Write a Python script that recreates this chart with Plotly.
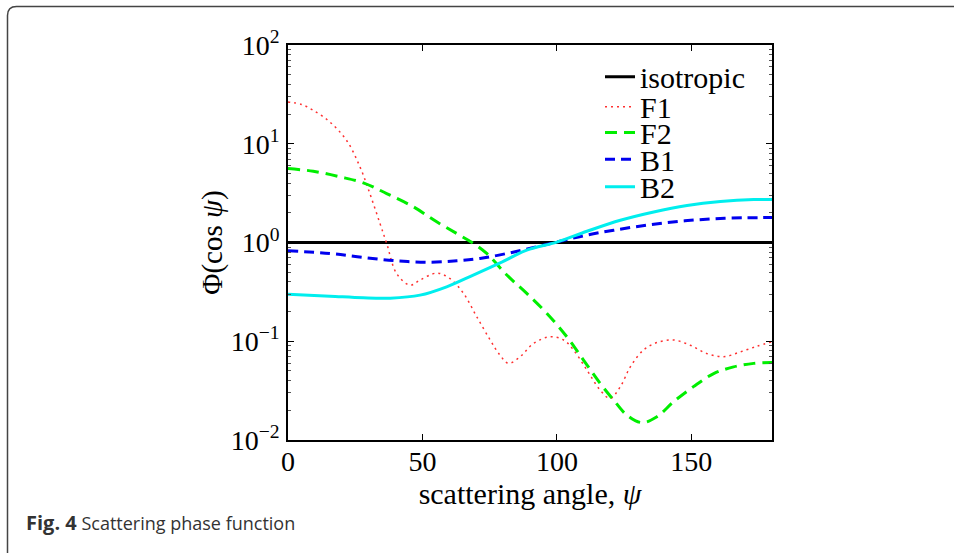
import plotly.graph_objects as go

# ---------------- data ----------------
ang_iso = [0, 180]
val_iso = [1.0, 1.0]

ang_F1 = [0, 5, 9.4, 15.6, 21.8, 26.8, 30.5, 34.2, 36.7, 40.4, 45.4, 49.1, 55.3, 60.3,
          65.3, 70.2, 75.2, 78.9, 82, 86.3, 91.3, 97.5, 102.5, 106.2, 111.2, 116.1,
          119.8, 123.6, 127.3, 132.2, 137.2, 143.4, 149.6, 155.8, 162, 168.2, 174.4, 180]
val_F1 = [26.5, 25.0, 21.8, 16.6, 10.8, 5.8, 3.1, 1.56, 0.98, 0.485, 0.37, 0.416, 0.49, 0.43,
          0.305, 0.177, 0.103, 0.072, 0.0597, 0.0697, 0.095, 0.111, 0.103, 0.0815, 0.051, 0.032,
          0.0264, 0.0347, 0.055, 0.0815, 0.097, 0.103, 0.091, 0.075, 0.0697, 0.078, 0.089, 0.099]

ang_F2 = [0, 9.4, 19.4, 28, 36.7, 46.6, 55.3, 62.8, 68.4, 73.9, 81.4, 88.8, 96.3, 103.7,
          109.9, 116.1, 121.1, 126, 131.6, 137.2, 143.4, 150.8, 158.3, 165.7, 173.2, 180]
val_F2 = [5.6, 5.27, 4.62, 4.02, 3.13, 2.30, 1.62, 1.23, 1.0, 0.774, 0.468, 0.305, 0.191, 0.111,
          0.0645, 0.0374, 0.0254, 0.0179, 0.0150, 0.0172, 0.0244, 0.0347, 0.047, 0.055, 0.0597, 0.061]

ang_B1 = [0, 15.6, 28, 40.4, 52.8, 62.8, 71.4, 81.4, 91.3, 101.2, 111.2, 121.1, 133.5,
          145.9, 158.3, 170.7, 180]
val_B1 = [0.824, 0.774, 0.705, 0.652, 0.632, 0.652, 0.689, 0.774, 0.89, 1.03, 1.19, 1.33, 1.50,
          1.64, 1.74, 1.78, 1.79]

ang_B2 = [0, 15.6, 28, 38, 49.1, 59, 68.9, 78.9, 88.8, 100, 111.2, 123.6, 136, 148.4,
          160.8, 173.2, 180]
val_B2 = [0.30, 0.286, 0.275, 0.273, 0.293, 0.356, 0.468, 0.622, 0.836, 1.01, 1.30, 1.68, 2.04,
          2.37, 2.60, 2.72, 2.72]

series_names = ["isotropic", "F1", "F2", "B1", "B2"]
x_tickvals = [0, 50, 100, 150]
y_tickvals = [0.01, 0.1, 1, 10, 100]
y_ticktext = ["10<sup>−2</sup>", "10<sup>−1</sup>", "10<sup>0</sup>", "10<sup>1</sup>", "10<sup>2</sup>"]
y_minor_vals = [m * 10 ** e for e in (-2, -1, 0, 1) for m in range(2, 10)]

# ---------------- figure ----------------
W, H = 954, 553
L, R, T, B = 288, 182, 45, 113
PW, PH = W - L - R, H - T - B


def px(x):
    return (x - L) / PW


def py(y):
    return (H - B - y) / PH


SERIF = "Liberation Serif, Times New Roman, serif"

styles = [
    dict(color="black", width=3),
    dict(color="#ff3030", width=1.5, dash="2px,4px"),
    dict(color="#00ee00", width=3, dash="12px,7px"),
    dict(color="#0000ee", width=3, dash="10px,6px"),
    dict(color="#00eeee", width=3),
]
data = [(ang_iso, val_iso), (ang_F1, val_F1), (ang_F2, val_F2), (ang_B1, val_B1), (ang_B2, val_B2)]
legend_ids = ["legend", "legend2", "legend3", "legend4", "legend5"]

fig = go.Figure()
for (xs, ys), name, st, lg in zip(data, series_names, styles, legend_ids):
    fig.add_trace(go.Scatter(x=xs, y=ys, mode="lines", name=name,
                             line_shape="linear" if name == "isotropic" else "spline",
                             line=st, legend=lg))

axis_common = dict(showline=True, linecolor="black", linewidth=1.5, mirror="ticks",
                   ticks="inside", ticklen=6, tickcolor="black", tickwidth=1,
                   showgrid=False, zeroline=False,
                   tickfont=dict(family=SERIF, size=28, color="black"))

fig.update_xaxes(range=[0, 180], tickvals=x_tickvals, ticktext=[str(v) for v in x_tickvals],
                 ticklabelstandoff=-4,
                 title=dict(text="scattering angle, <i>ψ</i>", standoff=0,
                            font=dict(family=SERIF, size=30, color="black")),
                 **axis_common)
fig.update_yaxes(type="log", range=[-2, 2], tickvals=y_tickvals, ticktext=y_ticktext,
                 ticklabelstandoff=1,
                 minor=dict(tickvals=y_minor_vals, ticks="inside", ticklen=3,
                            tickcolor="#555", showgrid=False),
                 title=dict(text="Φ(cos <i>ψ</i>)", standoff=0,
                            font=dict(family=SERIF, size=29, color="black")),
                 **axis_common)

# outer rounded frame
x0, y0, x1, y1, r = 7.5, 6.5, 970, 570, 9
path = (f"M {px(x0)},{py(y1)} L {px(x0)},{py(y0 + r)} "
        f"Q {px(x0)},{py(y0)} {px(x0 + r)},{py(y0)} L {px(x1)},{py(y0)}")
fig.add_shape(type="path", path=path, xref="paper", yref="paper",
              line=dict(color="#444", width=1.5))

fig.add_annotation(x=px(24), y=py(522), xref="paper", yref="paper", xanchor="left",
                   yanchor="middle", showarrow=False,
                   text="<span style='font-size:20px'><b>Fig. 4</b></span>\u00a0Scattering phase function",
                   font=dict(family="Open Sans, sans-serif", size=18, color="#333"))

legend_rows = [76.7, 106.7, 132.5, 159.3, 186.7]
legend_layout = {}
for lg, yrow in zip(legend_ids, legend_rows):
    legend_layout[lg] = dict(x=px(600), y=py(yrow), xanchor="left", yanchor="middle",
                             bgcolor="rgba(0,0,0,0)", borderwidth=0,
                             font=dict(family=SERIF, size=30, color="black"))

fig.update_layout(width=W, height=H, margin=dict(l=L, r=R, t=T, b=B),
                  paper_bgcolor="white", plot_bgcolor="white",
                  showlegend=True, **legend_layout)

fig.write_html("out.html", config={"displayModeBar": False},
               post_script="document.body.style.margin='0';")
